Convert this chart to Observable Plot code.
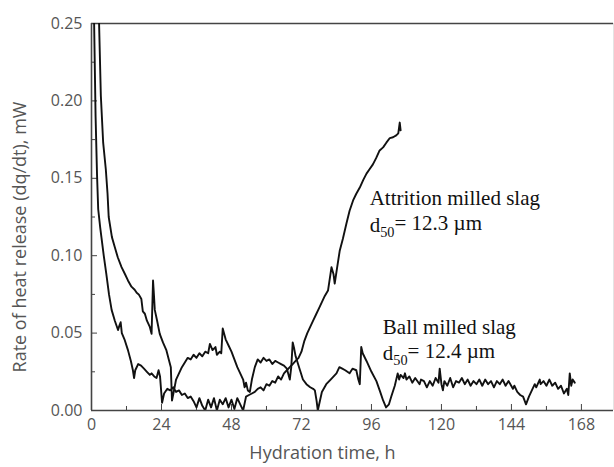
<!DOCTYPE html>
<html><head><meta charset="utf-8">
<script src="https://cdn.jsdelivr.net/npm/d3@7"></script>
<script src="https://cdn.jsdelivr.net/npm/@observablehq/plot@0.6"></script>
<style>body{margin:0;background:#fff}</style>
</head><body><div id="chart"></div>
<script>
// Attrition milled slag (curve with the late main peak)
const attTime = [
  0.6, 0.9, 1.4, 1.9, 2.3, 3.0, 3.4, 4.2, 5.1, 6.0,
  6.9, 8.0, 9.1, 9.6, 10.0, 10.4, 11.3, 12.5, 13.5, 14.2,
  14.6, 15.0, 16.0, 17.0, 18.0, 19.0, 20.0, 20.6, 21.5, 22.3,
  23.0, 23.5, 24.2, 24.9, 26, 27, 28, 29, 30, 31,
  32, 33, 34, 35, 36, 37, 38, 39, 40, 41,
  42, 43, 44, 45, 46, 47, 48, 49, 50, 51,
  52, 53, 54, 55, 56, 57, 58, 59, 60, 61,
  62, 63, 64, 65, 66, 67, 68, 69, 70, 71,
  72, 73, 74, 75, 76, 77, 78, 79, 80, 81.1,
  82.3, 83.0, 83.4, 84.2, 85.1, 86.2, 87.4, 88.5, 89.7, 90.8,
  92, 93.2, 94.3, 95.4, 96.5, 97.6, 98.8, 100, 101.1, 102.3,
  103.4, 104.5, 105.2, 105.7, 106
];
const attRate = [
  0.26, 0.25, 0.19, 0.152, 0.13, 0.118, 0.112, 0.100, 0.088, 0.075,
  0.065, 0.058, 0.052, 0.055, 0.057, 0.050, 0.046, 0.039, 0.032, 0.026,
  0.021, 0.026, 0.030, 0.029, 0.027, 0.025, 0.023, 0.024, 0.022, 0.021,
  0.026, 0.022, 0.005, 0.011, 0.014, 0.013, 0.015, 0.012, 0.013, 0.010,
  0.011, 0.008, 0.009, 0.006, 0.002, 0.008, 0.003, 0.000, 0.007, 0.002,
  0.008, 0.000, 0.007, 0.004, 0.008, 0.002, 0.007, 0.001, 0.008, 0.004,
  0.000, 0.009, 0.010, 0.011, 0.012, 0.014, 0.015, 0.013, 0.017, 0.016,
  0.019, 0.018, 0.022, 0.020, 0.024, 0.026, 0.028, 0.030, 0.032, 0.034,
  0.038, 0.045, 0.050, 0.054, 0.058, 0.062, 0.066, 0.070, 0.074, 0.0775,
  0.0926, 0.088, 0.082, 0.092, 0.103, 0.111, 0.1206, 0.129, 0.1357, 0.140,
  0.144, 0.149, 0.153, 0.156, 0.159, 0.163, 0.168, 0.170, 0.173, 0.176,
  0.1765, 0.1777, 0.179, 0.186, 0.181
];
// Ball milled slag
const ballTime = [
  2.6, 3.2, 4.0, 4.9, 5.5, 5.9, 7.0, 8.0, 9.0, 10.3,
  11.5, 12.5, 13.7, 14.8, 15.5, 16.2, 17.1, 17.6, 18.3, 19.0,
  20.0, 20.6, 21.1, 21.4, 21.7, 22.5, 23.4, 24.5, 25.7, 26.5,
  27.2, 27.6, 28.2, 29, 30, 31, 32, 33, 34, 35,
  36, 37, 38, 39, 40, 40.6, 41.5, 42.5, 43, 44,
  44.5, 45, 46, 47, 48, 49, 50, 51, 52, 52.5,
  53, 53.6, 54.3, 55, 56, 57, 58, 59, 60, 61,
  62, 63, 64, 65, 66, 67, 68, 68.5, 69, 69.5,
  70, 71.5, 72.5, 73.7, 75, 76, 76.6, 77.2, 77.6, 78.3,
  79, 80.5, 82, 84, 85, 86, 87, 88.5, 89.5, 90.8,
  91.5, 92, 92.5, 93, 94.3, 96, 97.7, 99, 100, 101,
  102, 102.8, 104, 105, 105.5, 106, 107, 107.5, 108, 109,
  110, 111, 112.5, 113, 114, 115, 116, 117, 118, 119,
  119.4, 120, 120.5, 121, 122, 123, 124, 125, 126, 127,
  128, 129, 130, 131, 132, 133, 134, 135, 136, 137,
  138, 139, 140, 141, 142, 143, 144.5, 145, 146, 147,
  148, 149, 150, 151, 152, 152.5, 153.7, 154, 155, 156,
  157, 158, 159, 160, 161, 162, 163, 163.5, 164, 164.5,
  165, 165.7
];
const ballRate = [
  0.25, 0.2035, 0.173, 0.156, 0.14, 0.125, 0.112, 0.1055, 0.099, 0.0926,
  0.088, 0.084, 0.080, 0.078, 0.076, 0.075, 0.072, 0.064, 0.0625, 0.058,
  0.054, 0.0495, 0.084, 0.075, 0.065, 0.058, 0.0495, 0.044, 0.0388, 0.033,
  0.028, 0.0065, 0.012, 0.020, 0.024, 0.028, 0.031, 0.034, 0.033, 0.036,
  0.034, 0.037, 0.035, 0.038, 0.037, 0.043, 0.039, 0.041, 0.036, 0.038,
  0.037, 0.053, 0.046, 0.042, 0.038, 0.033, 0.028, 0.024, 0.020, 0.015,
  0.018, 0.013, 0.012, 0.020, 0.028, 0.033, 0.031, 0.034, 0.032, 0.033,
  0.030, 0.032, 0.031, 0.030, 0.029, 0.027, 0.020, 0.028, 0.044, 0.040,
  0.035, 0.026, 0.020, 0.017, 0.015, 0.014, 0.013, 0.006, 0.000, 0.006,
  0.012, 0.017, 0.020, 0.024, 0.028, 0.027, 0.026, 0.024, 0.027, 0.026,
  0.020, 0.017, 0.041, 0.037, 0.032, 0.025, 0.019, 0.012, 0.0065, 0.002,
  0.004, 0.009, 0.016, 0.024, 0.020, 0.023, 0.021, 0.024, 0.020, 0.022,
  0.018, 0.021, 0.017, 0.020, 0.019, 0.015, 0.019, 0.016, 0.021, 0.018,
  0.027, 0.017, 0.013, 0.019, 0.016, 0.021, 0.015, 0.019, 0.018, 0.021,
  0.017, 0.020, 0.016, 0.019, 0.017, 0.020, 0.016, 0.020, 0.017, 0.019,
  0.015, 0.019, 0.017, 0.020, 0.016, 0.019, 0.014, 0.016, 0.012, 0.010,
  0.009, 0.004, 0.009, 0.013, 0.017, 0.015, 0.020, 0.017, 0.019, 0.016,
  0.020, 0.016, 0.018, 0.014, 0.016, 0.011, 0.014, 0.010, 0.024, 0.016,
  0.020, 0.018
];
const xTicks = [0, 24, 48, 72, 96, 120, 144, 168];
const xMinor = [12, 36, 60, 84, 108, 132, 156];
const yTicks = [0, 0.05, 0.10, 0.15, 0.20, 0.25];
const yMinor = [0.025, 0.075, 0.125, 0.175, 0.225];
const xDomain = [0, 179];
const yDomain = [0, 0.25];
const xLabel = "Hydration time, h";
const yLabel = "Rate of heat release (dq/dt), mW";
const noteText = ["Attrition milled slag", "d50 = 12.3 µm", "Ball milled slag", "d50 = 12.4 µm"];
const noteTime = [95.4, 95.4, 99.9, 99.9];
const noteRate = [0.137, 0.1195, 0.0536, 0.0368];

const W = 614, H = 467, mt = 23, mb = 57, ml = 91, mr = 1;
const plotH = H - mt - mb, plotW = W - ml - mr;
const att = attTime.map((t, i) => ({t, v: attRate[i]}));
const ball = ballTime.map((t, i) => ({t, v: ballRate[i]}));
const notes = noteText.map((s, i) => ({s, t: noteTime[i], v: noteRate[i]}));
const axisC = "#444", textC = "#555";

const chart = Plot.plot({
  width: W, height: H,
  marginTop: mt, marginBottom: mb, marginLeft: ml, marginRight: mr,
  x: {domain: xDomain},
  y: {domain: yDomain},
  style: {fontFamily: "'Open Sans', sans-serif", background: "#fff"},
  marks: [
    Plot.ruleX([xDomain[1]], {stroke: "#e4e4e4"}),
    Plot.ruleY([yDomain[1]], {stroke: axisC, strokeWidth: 1.4}),
    Plot.tickX(xTicks, {x: d => d, stroke: axisC, insetTop: plotH - 6}),
    Plot.tickX(xMinor, {x: d => d, stroke: axisC, insetTop: plotH - 4}),
    Plot.tickY(yTicks, {y: d => d, stroke: axisC, insetRight: plotW - 6}),
    Plot.tickY(yMinor, {y: d => d, stroke: axisC, insetRight: plotW - 4}),
    Plot.axisX(xTicks, {tickSize: 0, tickPadding: 8, fontSize: 16, color: textC, label: null, tickFormat: d => String(d)}),
    Plot.axisY(yTicks, {tickSize: 0, tickPadding: 9, fontSize: 16, color: textC, label: null, tickFormat: d3.format(".2f")}),
    Plot.line(ball, {x: "t", y: "v", stroke: "#111", strokeWidth: 1.9, clip: true}),
    Plot.line(att, {x: "t", y: "v", stroke: "#111", strokeWidth: 1.9, clip: true}),
    Plot.ruleY([0], {stroke: axisC, strokeWidth: 1.6}),
    Plot.ruleX([0], {stroke: axisC, strokeWidth: 1.6}),
    Plot.text(notes, {x: "t", y: "v", text: "s", textAnchor: "start", fontSize: 21, fill: "#111",
      fontFamily: "'Liberation Serif', 'Times New Roman', serif"}),
    Plot.text([xLabel], {text: d => d, frameAnchor: "bottom", textAnchor: "middle", dy: 48, dx: -30, fontSize: 18, fill: textC}),
    Plot.text([yLabel], {text: d => d, frameAnchor: "left", textAnchor: "middle", rotate: -90, dx: -71, dy: 20, fontSize: 18, fill: textC})
  ]
});

// subscripts for d50
d3.select(chart).selectAll("text").filter(function() {
  return this.textContent.startsWith("d50");
}).each(function() {
  const s = this.textContent;
  const sel = d3.select(this);
  sel.text(null);
  sel.append("tspan").text("d");
  sel.append("tspan").attr("font-size", "0.68em").attr("dy", "0.35em").text("50");
  sel.append("tspan").attr("dy", "-0.35em").text(s.slice(3).trimStart());
});

document.getElementById("chart").appendChild(chart);
</script>
</body></html>
